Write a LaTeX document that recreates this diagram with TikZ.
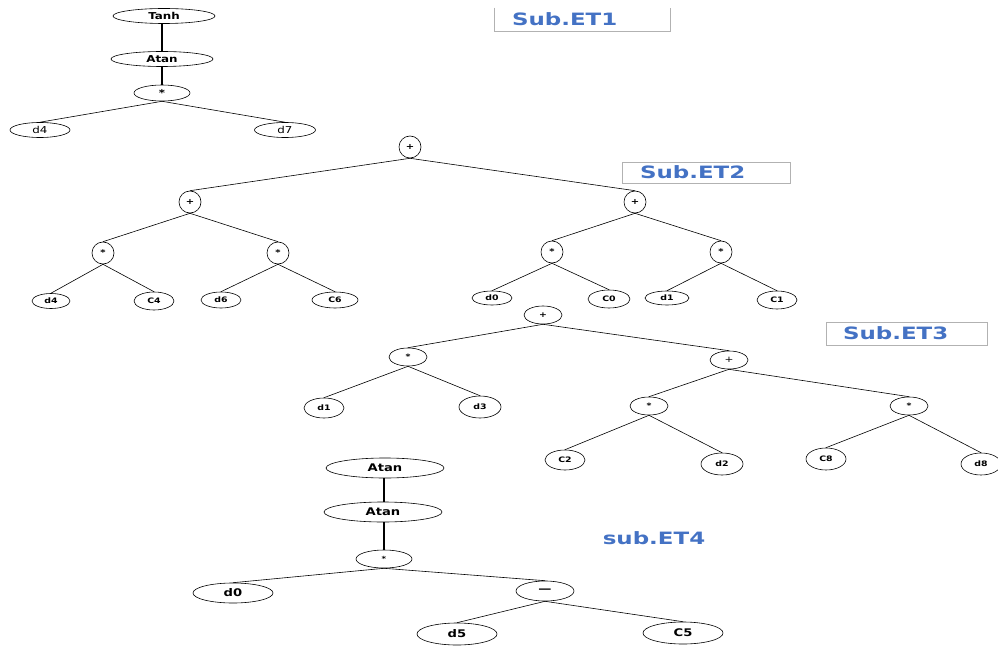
\documentclass[tikz,border=0pt]{standalone}
\usepackage{fontspec}
\usepackage{xcolor}
\usetikzlibrary{shapes.geometric}
\newfontfamily\nodefont[FakeStretch=1.25]{DejaVu Sans}
\newfontfamily\titlefont[FakeStretch=1.35]{DejaVu Sans}
\definecolor{titleblue}{RGB}{68,114,196}

\begin{document}
\begin{tikzpicture}[x = 1pt, y = -1pt, line width = 0.6pt,
  fn/.style = {ellipse, draw, inner sep = 0pt, font = \nodefont\bfseries\fontsize{9.5}{9.5}\selectfont},
  fnb/.style = {ellipse, draw, inner sep = 0pt, font = \nodefont\bfseries\fontsize{10.5}{10.5}\selectfont},
  op/.style = {circle, draw, inner sep = 0pt, minimum size = 22pt, font = \nodefont\bfseries\fontsize{8}{8}\selectfont},
  lf/.style = {ellipse, draw, inner sep = 0pt, font = \nodefont\bfseries\fontsize{7.5}{7.5}\selectfont},
  tbox/.style = {draw = black!30, semithick, inner sep = 0pt},
  title/.style = {text = titleblue, font = \titlefont\bfseries\fontsize{17}{17}\selectfont, inner sep = 0pt}]
\useasboundingbox (0,0) rectangle (998,647);
% Sub.ET1
\node (t1a) at (164,16) [fn, minimum width = 102pt, minimum height = 15pt] {Tanh};
\node (t1b) at (162,59) [fn, minimum width = 102pt, minimum height = 15pt] {Atan};
\node (t1m) at (162,93) [fn, minimum width = 56pt, minimum height = 16pt] {*};
\node (t1l) at (40,130) [fn, minimum width = 60pt, minimum height = 15pt, font = \nodefont\fontsize{9.5}{9.5}\selectfont] {d4};
\node (t1r) at (285,130) [fn, minimum width = 61pt, minimum height = 15pt, font = \nodefont\fontsize{9.5}{9.5}\selectfont] {d7};
\draw[line width = 1.2pt] (t1a.south -| t1b) -- (t1b.north);
\draw[line width = 1.2pt] (t1b) -- (t1m);
\draw (t1m.south) -- (t1l.north);
\draw (t1m.south) -- (t1r.north);
% Sub.ET2
\node (t2p) at (410,147) [op] {+};
\node (t2a) at (190,202) [op] {+};
\node (t2b) at (635,202) [op] {+};
\node (t2c) at (103,253) [op] {*};
\node (t2d) at (278,253) [op] {*};
\node (t2e) at (552,252) [op] {*};
\node (t2f) at (721,252) [op] {*};
\node (t2g) at (51,301) [lf, minimum width = 38pt, minimum height = 15pt] {d4};
\node (t2h) at (154,301) [lf, minimum width = 40pt, minimum height = 18pt] {C4};
\node (t2i) at (221,300) [lf, minimum width = 40pt, minimum height = 16pt] {d6};
\node (t2j) at (335,300) [lf, minimum width = 46pt, minimum height = 16pt] {C6};
\node (t2k) at (492,298) [lf, minimum width = 40pt, minimum height = 14pt] {d0};
\node (t2l) at (609,299) [lf, minimum width = 42pt, minimum height = 18pt] {C0};
\node (t2m) at (667,298) [lf, minimum width = 44pt, minimum height = 14pt] {d1};
\node (t2n) at (777,300) [lf, minimum width = 40pt, minimum height = 18pt] {C1};
\draw (t2p.south) -- (t2a.north);
\draw (t2p.south) -- (t2b.north);
\draw (t2a.south) -- (t2c.north);
\draw (t2a.south) -- (t2d.north);
\draw (t2b.south) -- (t2e.north);
\draw (t2b.south) -- (t2f.north);
\draw (t2c.south) -- (t2g.north);
\draw (t2c.south) -- (t2h.north);
\draw (t2d.south) -- (t2i.north);
\draw (t2d.south) -- (t2j.north);
\draw (t2e.south) -- (t2k.north);
\draw (t2e.south) -- (t2l.north);
\draw (t2f.south) -- (t2m.north);
\draw (t2f.south) -- (t2n.north);
% Sub.ET3
\node (t3p) at (543,315) [lf, minimum width = 38pt, minimum height = 18pt] {+};
\node (t3a) at (408,357) [lf, minimum width = 38pt, minimum height = 18pt] {*};
\node (t3b) at (729,360) [lf, minimum width = 38pt, minimum height = 18pt, font = \nodefont\fontsize{8.5}{8.5}\selectfont] {+};
\node (t3c) at (324,408) [lf, minimum width = 40pt, minimum height = 20pt] {d1};
\node (t3d) at (480,407) [lf, minimum width = 42pt, minimum height = 22pt] {d3};
\node (t3e) at (649,406) [lf, minimum width = 38pt, minimum height = 18pt] {*};
\node (t3f) at (909,406) [lf, minimum width = 38pt, minimum height = 18pt] {*};
\node (t3g) at (565,460) [lf, minimum width = 40pt, minimum height = 20pt] {C2};
\node (t3h) at (722,464) [lf, minimum width = 42pt, minimum height = 22pt] {d2};
\node (t3i) at (826,459) [lf, minimum width = 40pt, minimum height = 22pt] {C8};
\node (t3j) at (981,464) [lf, minimum width = 40pt, minimum height = 22pt] {d8};
\draw (t3p.south) -- (t3a.north);
\draw (t3p.south) -- (t3b.north);
\draw (t3a.south) -- (t3c.north);
\draw (t3a.south) -- (t3d.north);
\draw (t3b.south) -- (t3e.north);
\draw (t3b.south) -- (t3f.north);
\draw (t3e.south) -- (t3g.north);
\draw (t3e.south) -- (t3h.north);
\draw (t3f.south) -- (t3i.north);
\draw (t3f.south) -- (t3j.north);
% sub.ET4
\node (t4a) at (385,468) [fnb, minimum width = 118pt, minimum height = 20pt] {Atan};
\node (t4b) at (383,512) [fnb, minimum width = 118pt, minimum height = 20pt] {Atan};
\node (t4m) at (384,559) [fnb, minimum width = 56pt, minimum height = 18pt, font = \nodefont\bfseries\fontsize{7}{7}\selectfont] {*};
\node (t4l) at (233,593) [fnb, minimum width = 80pt, minimum height = 20pt] {d0};
\node (t4s) at (545,591) [fnb, minimum width = 58pt, minimum height = 20pt] {—};
\node (t4c) at (457,634) [fnb, minimum width = 80pt, minimum height = 22pt] {d5};
\node (t4d) at (683,633) [fnb, minimum width = 80pt, minimum height = 22pt] {C5};
\draw[line width = 1.2pt] (t4a.south -| t4m) -- (t4b.north -| t4m);
\draw[line width = 1.2pt] (t4b.south -| t4m) -- (t4m.north);
\draw (t4m.south) -- (t4l.north);
\draw (t4m.south) -- (t4s.north);
\draw (t4s.south) -- (t4c.north);
\draw (t4s.south) -- (t4d.north);
% titles
\node (b1) at (582.5,19.5) [inner sep = 0pt, minimum width = 175pt, minimum height = 23pt] {};
\draw[draw = black!30, semithick] (b1.north west) -- (b1.south west) -- (b1.south east) -- (b1.north east);
\node (s1) [title, anchor = west] at ([xshift = 17pt]b1.west) {Sub.ET1};
\node (b2) at (706,172.5) [tbox, minimum width = 168pt, minimum height = 21pt] {};
\node (s2) [title, anchor = west] at ([xshift = 18pt]b2.west) {Sub.ET2};
\node (b3) at (906.5,333.5) [tbox, minimum width = 161pt, minimum height = 23pt] {};
\node (s3) [title, anchor = west] at ([xshift = 17pt]b3.west) {Sub.ET3};
\node (s4) [title] at (654,538) {sub.ET4};
\end{tikzpicture}
\end{document}
